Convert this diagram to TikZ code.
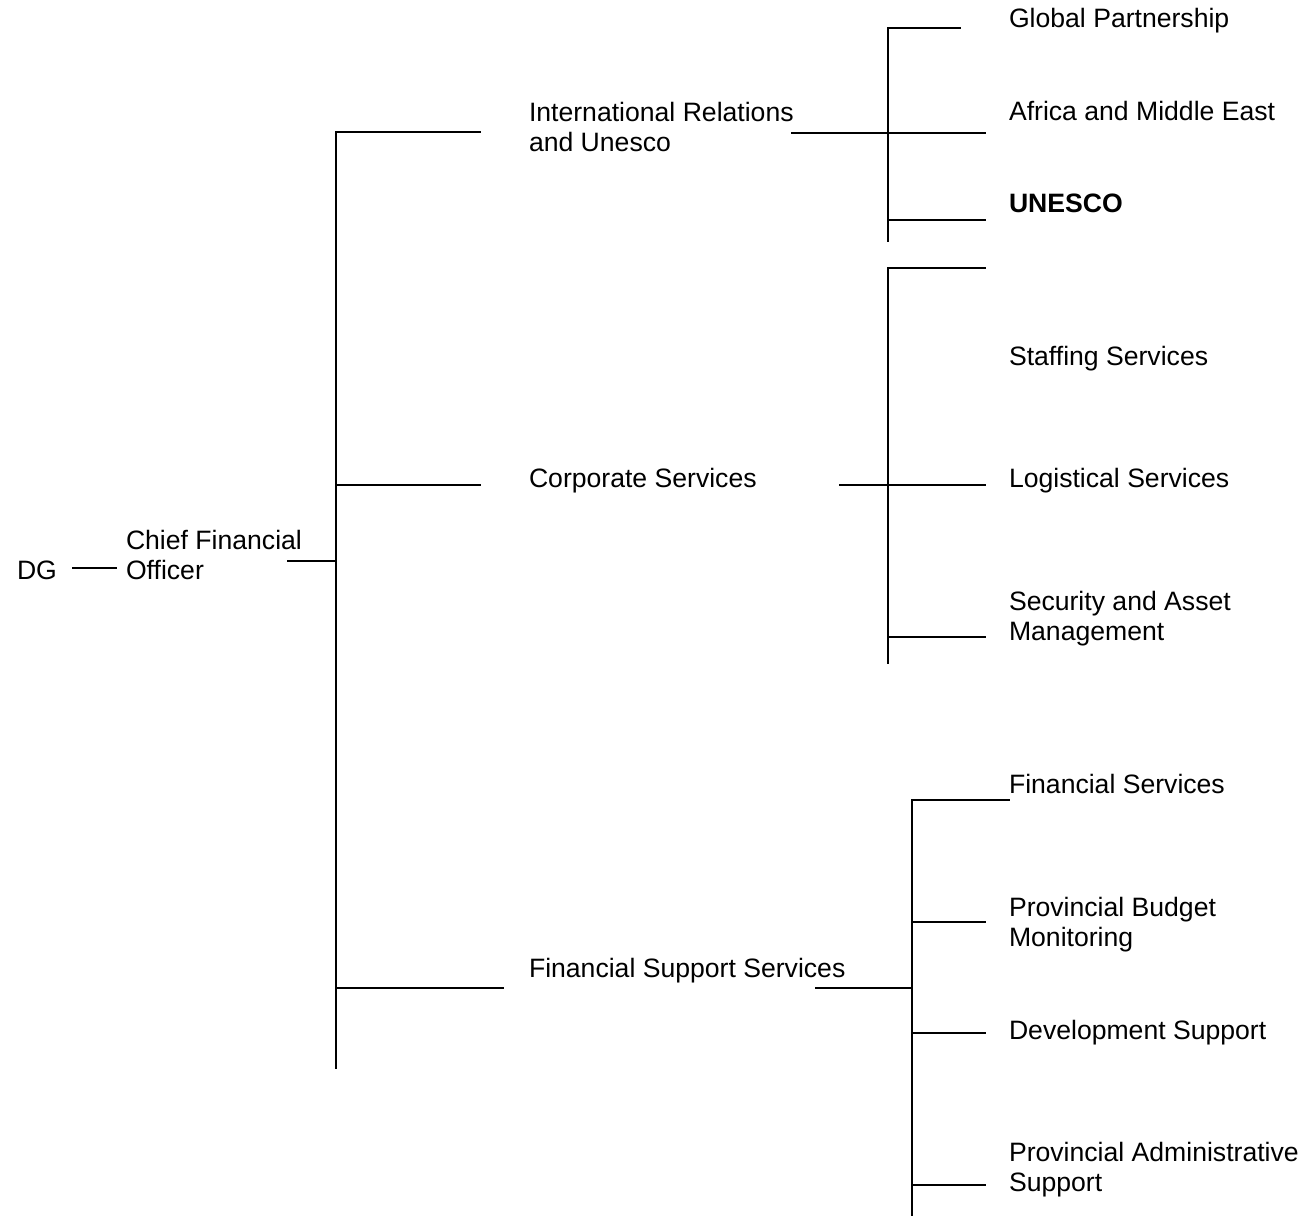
\documentclass[tikz,border=0pt]{standalone}
\usepackage{fontspec}
\setmainfont{Liberation Sans}
\begin{document}
\begin{tikzpicture}[x=1pt,y=-1pt,
  wire/.style={line width=2pt,line cap=rect},
  lbl/.style={anchor=base west,inner sep=0pt,outer sep=0pt,
    font=\fontsize{26.6}{30.5}\selectfont}]
\useasboundingbox (0,0) rectangle (1305,1215);
\renewcommand{\arraystretch}{1}

% ---- labels ----
\node[lbl] (dg) at (17,579) {DG};
\node[lbl] (cfo) at (126,549) {\begin{tabular}[t]{@{}l@{}}Chief Financial\\Officer\end{tabular}};

\node[lbl] (iru) at (529,121) {\begin{tabular}[t]{@{}l@{}}International Relations\\and Unesco\end{tabular}};
\node[lbl] (cs)  at (529,487) {Corporate Services};
\node[lbl] (fss) at (529,977) {Financial Support Services};

\node[lbl] (gp)  at (1009,28)  {Global Partnership};
\node[lbl] (ame) at (1009,120) {Africa and Middle East};
\node[lbl] (un)  at (1009,212) {\bfseries UNESCO};

\node[lbl] (ss)  at (1009,365) {Staffing Services};
\node[lbl] (ls)  at (1009,487) {Logistical Services};
\node[lbl] (sam) at (1009,610) {\begin{tabular}[t]{@{}l@{}}Security and Asset\\Management\end{tabular}};

\node[lbl] (fs)  at (1009,793) {Financial Services};
\node[lbl] (pbm) at (1009,916) {\begin{tabular}[t]{@{}l@{}}Provincial Budget\\Monitoring\end{tabular}};
\node[lbl] (ds)  at (1009,1039) {Development Support};
\node[lbl] (pas) at (1009,1161) {\begin{tabular}[t]{@{}l@{}}Provincial Administrative\\Support\end{tabular}};

% ---- junction points ----
% DG to CFO
\coordinate (dgL) at (73,568);  \coordinate (dgR) at (116,568);
% main bus
\coordinate (mTop) at (336,132); \coordinate (mBot) at (336,1068);
\coordinate (cfoL) at (288,561); \coordinate (cfoR) at (336,561);
\coordinate (bA) at (336,132);  \coordinate (bAe) at (480,132);
\coordinate (bB) at (336,485);  \coordinate (bBe) at (480,485);
\coordinate (bC) at (336,988);  \coordinate (bCe) at (503,988);
% bus 1
\coordinate (aTop) at (888,28);  \coordinate (aBot) at (888,241);
\coordinate (aFeed) at (792,133); \coordinate (aMid) at (888,133);
\coordinate (a1e) at (960,28);   \coordinate (a2e) at (985,133);
\coordinate (a3) at (888,220);   \coordinate (a3e) at (985,220);
% bus 2
\coordinate (cTop) at (888,268); \coordinate (cBot) at (888,663);
\coordinate (cFeed) at (840,485); \coordinate (cMid) at (888,485);
\coordinate (c1e) at (985,268);  \coordinate (c2e) at (985,485);
\coordinate (c3) at (888,637);   \coordinate (c3e) at (985,637);
% bus 3
\coordinate (fTop) at (912,800); \coordinate (fBot) at (912,1215);
\coordinate (fFeed) at (816,988); \coordinate (fMid) at (912,988);
\coordinate (f1e) at (1009,800);
\coordinate (f2) at (912,922);   \coordinate (f2e) at (985,922);
\coordinate (f3) at (912,1033);  \coordinate (f3e) at (985,1033);
\coordinate (f4) at (912,1185);  \coordinate (f4e) at (985,1185);

% ---- connectors ----
\draw[wire] (dgL) -- (dgR);
\draw[wire] (mTop) -- (mBot);
\draw[wire] (cfoL) -- (cfoR);
\draw[wire] (bA) -- (bAe);
\draw[wire] (bB) -- (bBe);
\draw[wire] (bC) -- (bCe);

\draw[wire] (aTop) -- (aBot);
\draw[wire] (aTop) -- (a1e);
\draw[wire] (aFeed) -- (a2e);
\draw[wire] (a3) -- (a3e);

\draw[wire] (cTop) -- (cBot);
\draw[wire] (cTop) -- (c1e);
\draw[wire] (cFeed) -- (c2e);
\draw[wire] (c3) -- (c3e);

\draw[wire] (fTop) -- (fBot);
\draw[wire] (fTop) -- (f1e);
\draw[wire] (fFeed) -- (fMid);
\draw[wire] (f2) -- (f2e);
\draw[wire] (f3) -- (f3e);
\draw[wire] (f4) -- (f4e);
\end{tikzpicture}
\end{document}
